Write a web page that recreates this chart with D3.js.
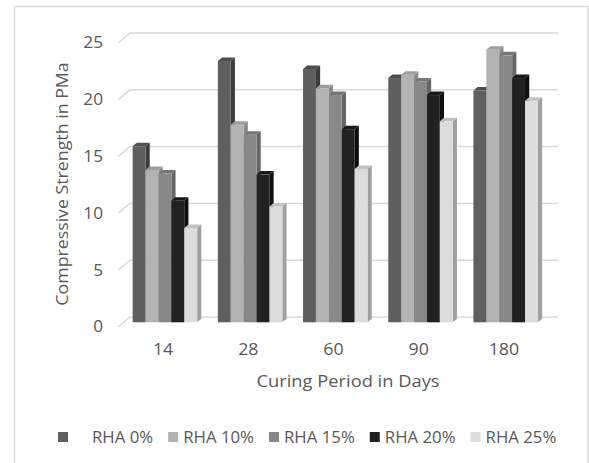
<!DOCTYPE html>
<html>
<head>
<meta charset="utf-8">
<script src="https://cdn.jsdelivr.net/npm/d3@7"></script>
<style>
  html, body { margin: 0; padding: 0; background: #fff; }
  svg { display: block; }
  text { font-family: "Open Sans", sans-serif; fill: #595959; }
</style>
</head>
<body>
<svg id="chart" width="589" height="463"></svg>
<script>
// Curing periods (days) on the category axis
const categories = ["14", "28", "60", "90", "180"];
// Rice husk ash replacement levels
const series = ["RHA 0%", "RHA 10%", "RHA 15%", "RHA 20%", "RHA 25%"];
// Compressive strength per series, one value per curing period
const rha0  = [15.5, 23.0, 22.3, 21.5, 20.4];
const rha10 = [13.4, 17.4, 20.6, 21.8, 24.0];
const rha15 = [13.1, 16.5, 20.0, 21.2, 23.5];
const rha20 = [10.7, 13.0, 17.0, 20.0, 21.5];
const rha25 = [8.3, 10.2, 13.5, 17.7, 19.5];
const valueTicks = [0, 5, 10, 15, 20, 25];

const seriesValues = [rha0, rha10, rha15, rha20, rha25];
const palette = [
  { front: "#5f5f5f", top: "#4e4e4e", side: "#3c3c3c" },
  { front: "#b3b3b3", top: "#9c9c9c", side: "#8b8b8b" },
  { front: "#888888", top: "#757575", side: "#666666" },
  { front: "#212121", top: "#181818", side: "#0e0e0e" },
  { front: "#dcdcdc", top: "#c2c2c2", side: "#a0a0a0" }
];

// Labels use a slightly widened face
const widen = 1.11;

const svg = d3.select("#chart");

// Chart area frame
svg.append("rect")
  .attr("x", 14.5).attr("y", 6.5)
  .attr("width", 573.5).attr("height", 480)
  .attr("fill", "none").attr("stroke", "#d9d9d9").attr("stroke-width", 1.5);

// Back-wall value scale; depth 0 = back wall, depth 1 = front edge of floor
const y = d3.scaleLinear().domain([0, 25]).range([317, 33]);
const depthVec = { dx: -12, dy: 10 };
const wallLeft = 130, wallRight = 558;
const proj = (xBack, v, depth) => [xBack + depthVec.dx * depth, y(v) + depthVec.dy * depth];

// Category bands on the back wall
const x = d3.scaleBand().domain(categories).range([131, 557]).padding(0);
const barW = 12.9;
const groupOffset = 8;
const xInner = d3.scaleBand().domain(series).range([groupOffset, groupOffset + barW * series.length]);
const frontDepth = 0.53, backDepth = 0.18;

// Gridlines: a short segment on the side wall and the line across the back wall
const grid = svg.append("g");
valueTicks.forEach(t => {
  const p0 = proj(wallLeft, t, 1);
  const p1 = proj(wallLeft, t, 0);
  grid.append("path")
    .attr("d", `M${p0[0]},${p0[1]}L${p1[0]},${p1[1]}L${wallRight},${p1[1]}`)
    .attr("fill", "none").attr("stroke", "#d9d9d9").attr("stroke-width", 1.5);
});

// Value axis labels
svg.append("g").selectAll("text").data(valueTicks).join("text")
  .attr("transform", d => `translate(103,${y(d) + 10}) scale(${widen},1)`)
  .attr("dy", "0.35em")
  .attr("text-anchor", "end")
  .attr("font-size", 15.5)
  .text(d => d);

// Bars: drawn left to right so each bar hides the side face of its neighbour
const bars = svg.append("g");
categories.forEach((c, ci) => {
  series.forEach((s, si) => {
    const v = seriesValues[si][ci];
    const xb = x(c) + xInner(s);
    const col = palette[si];
    const fl = proj(xb, 0, frontDepth), ft = proj(xb, v, frontDepth);
    const frx = fl[0] + barW;
    const bt = proj(xb, v, backDepth), bb = proj(xb, 0, backDepth);
    const brx = bt[0] + barW;
    // side face
    bars.append("path")
      .attr("d", `M${frx},${ft[1]}L${brx},${bt[1]}L${brx},${bb[1]}L${frx},${fl[1]}Z`)
      .attr("fill", col.side);
    // top face
    bars.append("path")
      .attr("d", `M${ft[0]},${ft[1]}L${bt[0]},${bt[1]}L${brx},${bt[1]}L${frx},${ft[1]}Z`)
      .attr("fill", col.top);
    // front face
    bars.append("rect")
      .attr("x", ft[0]).attr("y", ft[1])
      .attr("width", barW).attr("height", fl[1] - ft[1])
      .attr("fill", col.front);
  });
});

// Category labels
svg.append("g").selectAll("text").data(categories).join("text")
  .attr("transform", d => `translate(${x(d) + x.bandwidth() / 2 - 10.5},349) scale(${widen},1)`)
  .attr("dy", "0.35em")
  .attr("text-anchor", "middle")
  .attr("font-size", 16)
  .text(d => d);

// Axis titles
svg.append("text")
  .attr("transform", `translate(62,184) rotate(-90) scale(${widen},1)`)
  .attr("text-anchor", "middle")
  .attr("dy", "0.35em")
  .attr("font-size", 16)
  .text("Compressive Strength in PMa");

svg.append("text")
  .attr("transform", `translate(348,381) scale(${widen},1)`)
  .attr("dy", "0.35em")
  .attr("text-anchor", "middle")
  .attr("font-size", 16.5)
  .text("Curing Period in Days");

// Legend
const legendY = 437;
const legend = svg.append("g");
let lx = 58;
series.forEach((s, i) => {
  legend.append("rect")
    .attr("x", lx).attr("y", legendY - 5)
    .attr("width", 10).attr("height", 10)
    .attr("fill", palette[i].front);
  const gap = i === 0 ? 34 : 15;
  const t = legend.append("text")
    .attr("transform", `translate(${lx + gap},${legendY}) scale(1.05,1)`)
    .attr("dy", "0.35em")
    .attr("font-size", 16)
    .text(s);
  const w = t.node().getComputedTextLength() * 1.05;
  lx = lx + gap + w + 15;
});
</script>
</body>
</html>
